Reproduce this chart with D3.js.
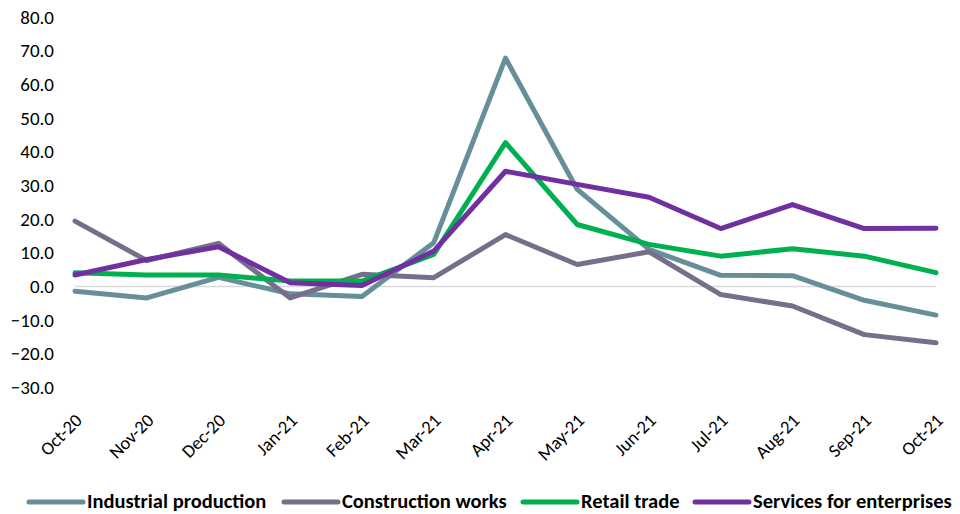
<!DOCTYPE html>
<html>
<head>
<meta charset="utf-8">
<script src="https://cdn.jsdelivr.net/npm/d3@7"></script>
<style>
  html, body { margin: 0; padding: 0; background: #fff; }
  svg { display: block; font-family: Carlito, Calibri, Lato, "Open Sans", sans-serif; }
</style>
</head>
<body>
<svg id="chart" width="960" height="514"></svg>
<script>
// Months on the x axis
const months = ["Oct-20","Nov-20","Dec-20","Jan-21","Feb-21","Mar-21","Apr-21",
                "May-21","Jun-21","Jul-21","Aug-21","Sep-21","Oct-21"];

// Year-on-year change, %
const industrialProduction = [-1.4, -3.4, 2.7, -2.2, -3.0, 13.0, 67.8, 28.8, 11.0, 3.3, 3.2, -4.1, -8.5];
const constructionWorks    = [19.4, 7.7, 12.8, -3.4, 3.6, 2.6, 15.4, 6.5, 10.3, -2.4, -5.8, -14.3, -16.7];
const retailTrade          = [4.1, 3.4, 3.4, 1.6, 1.6, 9.5, 42.7, 18.4, 12.5, 9.0, 11.2, 9.0, 4.1];
const servicesEnterprises  = [3.4, 8.0, 11.8, 1.1, 0.3, 10.5, 34.2, 30.3, 26.5, 17.2, 24.3, 17.2, 17.3];

const seriesNames  = ["Industrial production", "Construction works", "Retail trade", "Services for enterprises"];
const seriesColors = ["#668f9a", "#756f8a", "#00b050", "#7030a0"];
const yTicks = [80, 70, 60, 50, 40, 30, 20, 10, 0, -10, -20, -30];

const series = [industrialProduction, constructionWorks, retailTrade, servicesEnterprises]
  .map((values, i) => ({ name: seriesNames[i], color: seriesColors[i], values }));

const FONT = "Carlito, Calibri, Lato, 'Open Sans', sans-serif";
const svg = d3.select("#chart");

const x = d3.scalePoint().domain(months).range([75, 936]);
const y = d3.scaleLinear().domain([-30, 80]).range([387.5, 17]);

// Y axis labels (no axis line, no ticks)
const yAxis = svg.append("g")
  .attr("transform", "translate(54,0)")
  .call(d3.axisLeft(y).tickValues(yTicks).tickFormat(d3.format(".1f")).tickSize(0).tickPadding(0));
yAxis.select(".domain").remove();
yAxis.selectAll("text")
  .attr("font-size", 19)
  .attr("fill", "#000")
  .style("font-family", FONT);

// Zero line
svg.append("line")
  .attr("x1", x.range()[0]).attr("x2", x.range()[1])
  .attr("y1", y(0)).attr("y2", y(0))
  .attr("stroke", "#d9d9d9").attr("stroke-width", 1.5);

// X axis labels, rotated
const xAxis = svg.append("g")
  .attr("transform", "translate(0,398)")
  .call(d3.axisBottom(x).tickSize(0).tickPadding(0));
xAxis.select(".domain").remove();
xAxis.selectAll("text")
  .attr("font-size", 18.5)
  .attr("fill", "#000")
  .style("font-family", FONT)
  .attr("text-anchor", "end")
  .attr("dy", "0.35em")
  .attr("transform", "translate(3,19) rotate(-45)");

// Lines
const line = d3.line()
  .x((d, i) => x(months[i]))
  .y(d => y(d));

svg.append("g").selectAll("path")
  .data(series)
  .join("path")
  .attr("d", d => line(d.values))
  .attr("fill", "none")
  .attr("stroke", d => d.color)
  .attr("stroke-width", 5)
  .attr("stroke-linejoin", "round")
  .attr("stroke-linecap", "round");

// Legend
const legendX = [29, 284, 523, 695];
const legend = svg.append("g").selectAll("g")
  .data(series)
  .join("g")
  .attr("transform", (d, i) => `translate(${legendX[i]},502)`);
legend.append("line")
  .attr("x1", 0).attr("x2", 54)
  .attr("stroke", d => d.color)
  .attr("stroke-width", 5)
  .attr("stroke-linecap", "round");
legend.append("text")
  .attr("x", 58)
  .attr("dy", 6)
  .attr("font-size", 20.5)
  .attr("font-weight", "bold")
  .attr("fill", "#000")
  .text(d => d.name);
</script>
</body>
</html>
